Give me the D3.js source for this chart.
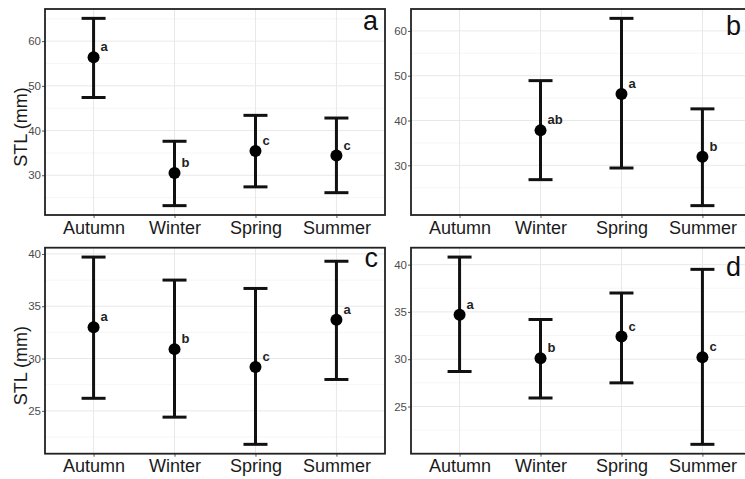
<!DOCTYPE html>
<html>
<head>
<meta charset="utf-8">
<script src="https://cdn.jsdelivr.net/npm/d3@7"></script>
<style>
  body { margin: 0; background: #fff; }
  svg { display: block; font-family: "Liberation Sans", Arial, sans-serif; }
</style>
</head>
<body>
<svg id="chart" width="745" height="479"></svg>
<script>
const seasons = ['Autumn', 'Winter', 'Spring', 'Summer'];

// panel a
const aMean = [56.4, 30.5, 35.4, 34.4];
const aLow = [47.4, 23.2, 27.4, 26.1];
const aHigh = [65.1, 37.6, 43.4, 42.8];
const aGroup = ['a', 'b', 'c', 'c'];
const aTicks = [30, 40, 50, 60];

// panel b (no Autumn value)
const bMean = [null, 37.8, 45.9, 31.9];
const bLow = [null, 26.8, 29.4, 21.0];
const bHigh = [null, 48.9, 62.8, 42.6];
const bGroup = [null, 'ab', 'a', 'b'];
const bTicks = [30, 40, 50, 60];

// panel c
const cMean = [33.0, 30.9, 29.2, 33.7];
const cLow = [26.2, 24.4, 21.8, 28.0];
const cHigh = [39.7, 37.5, 36.7, 39.3];
const cGroup = ['a', 'b', 'c', 'a'];
const cTicks = [25, 30, 35, 40];

// panel d
const dMean = [34.7, 30.1, 32.4, 30.2];
const dLow = [28.7, 25.9, 27.5, 21.0];
const dHigh = [40.8, 34.2, 37.0, 39.5];
const dGroup = ['a', 'b', 'c', 'c'];
const dTicks = [25, 30, 35, 40];

const panels = [
  { tag: 'a', mean: aMean, low: aLow, high: aHigh, grp: aGroup, ticks: aTicks, x: 45, y: 9, title: true, tagDx: -7, tagDy: 21 },
  { tag: 'b', mean: bMean, low: bLow, high: bHigh, grp: bGroup, ticks: bTicks, x: 411, y: 9, title: false, tagDx: -10, tagDy: 26 },
  { tag: 'c', mean: cMean, low: cLow, high: cHigh, grp: cGroup, ticks: cTicks, x: 45, y: 247.7, title: true, tagDx: -7, tagDy: 19 },
  { tag: 'd', mean: dMean, low: dLow, high: dHigh, grp: dGroup, ticks: dTicks, x: 411, y: 247.7, title: false, tagDx: -10, tagDy: 28 }
];

const W = 340, H = 206;
const svg = d3.select('#chart');

panels.forEach(p => {
  const rows = seasons.map((s, i) => ({ s, m: p.mean[i], lo: p.low[i], hi: p.high[i], g: p.grp[i] }))
    .filter(r => r.m != null);

  const lo = d3.min(rows, r => r.lo), hi = d3.max(rows, r => r.hi);
  const pad = (hi - lo) * 0.05;
  const y = d3.scaleLinear().domain([lo - pad, hi + pad]).range([H, 0]);
  const x = d3.scalePoint().domain(seasons).range([0, W]).padding(0.6);

  const g = svg.append('g').attr('transform', `translate(${p.x},${p.y})`);

  // minor grid
  const step = p.ticks[1] - p.ticks[0];
  const minor = d3.range(p.ticks[0] - step / 2, y.domain()[1], step).filter(v => v > y.domain()[0]);
  g.selectAll('.minor').data(minor).join('line')
    .attr('x1', 0).attr('x2', W)
    .attr('y1', d => y(d)).attr('y2', d => y(d))
    .attr('stroke', '#f4f4f4').attr('stroke-width', 0.8);

  // major grid
  g.selectAll('.major').data(p.ticks).join('line')
    .attr('x1', 0).attr('x2', W)
    .attr('y1', d => y(d)).attr('y2', d => y(d))
    .attr('stroke', '#e8e8e8').attr('stroke-width', 1);
  g.selectAll('.vgrid').data(seasons).join('line')
    .attr('x1', d => x(d)).attr('x2', d => x(d))
    .attr('y1', 0).attr('y2', H)
    .attr('stroke', '#e8e8e8').attr('stroke-width', 1);

  // y axis ticks and labels
  const yAxis = d3.axisLeft(y).tickValues(p.ticks).tickSize(3).tickPadding(1);
  const ya = g.append('g').call(yAxis);
  ya.select('.domain').remove();
  ya.selectAll('line').attr('stroke', '#555');
  ya.selectAll('text').attr('fill', '#4d4d4d').attr('font-size', 11.5);

  // x axis labels
  const xAxis = d3.axisBottom(x).tickSize(3).tickPadding(3);
  const xa = g.append('g').attr('transform', `translate(0,${H})`).call(xAxis);
  xa.select('.domain').remove();
  xa.selectAll('line').attr('stroke', '#555');
  xa.selectAll('text').attr('fill', '#1a1a1a').attr('font-size', 18);

  // error bars
  const bars = g.selectAll('.bar').data(rows).join('g');
  bars.append('line')
    .attr('x1', d => x(d.s)).attr('x2', d => x(d.s))
    .attr('y1', d => y(d.lo)).attr('y2', d => y(d.hi))
    .attr('stroke', '#111').attr('stroke-width', 3);
  ['lo', 'hi'].forEach(k => {
    bars.append('line')
      .attr('x1', d => x(d.s) - 12).attr('x2', d => x(d.s) + 12)
      .attr('y1', d => y(d[k])).attr('y2', d => y(d[k]))
      .attr('stroke', '#111').attr('stroke-width', 3);
  });
  bars.append('circle')
    .attr('cx', d => x(d.s)).attr('cy', d => y(d.m)).attr('r', 6)
    .attr('fill', '#000');
  bars.append('text')
    .attr('x', d => x(d.s) + 7).attr('y', d => y(d.m) - 6)
    .attr('font-size', 13).attr('font-weight', 'bold').attr('fill', '#222')
    .text(d => d.g);

  // panel border
  g.append('rect').attr('width', W).attr('height', H)
    .attr('fill', 'none').attr('stroke', '#222').attr('stroke-width', 1.8);

  // panel tag
  g.append('text')
    .attr('x', W + p.tagDx).attr('y', p.tagDy)
    .attr('text-anchor', 'end').attr('font-size', 27).attr('fill', '#111')
    .text(p.tag);

  if (p.title) {
    svg.append('text')
      .attr('transform', `translate(${p.x - 18},${p.y + H / 2 + 15}) rotate(-90)`)
      .attr('text-anchor', 'middle').attr('font-size', 18).attr('fill', '#1a1a1a')
      .text('STL (mm)');
  }
});
</script>
</body>
</html>
